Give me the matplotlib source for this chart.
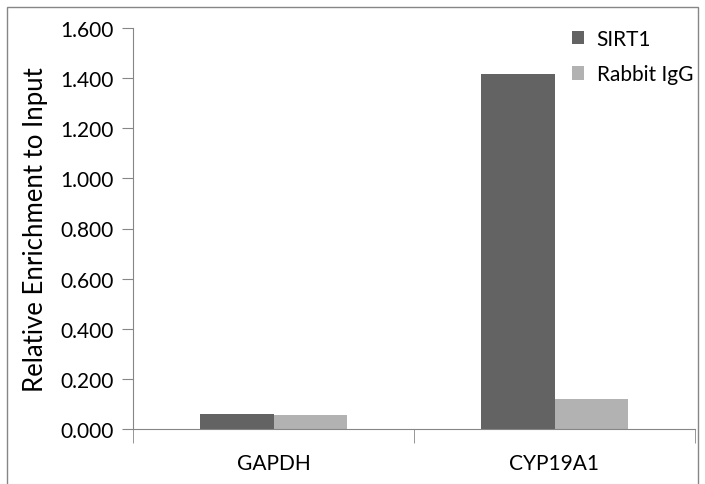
# Enriquecimiento relativo (ChIP) por gen, SIRT1 vs Rabbit IgG

import matplotlib.pyplot as plt
import numpy as np
from matplotlib.patches import Rectangle

# Datos
genes = ["GAPDH", "CYP19A1"]
sirt1 = [0.060, 1.415]
igg = [0.055, 0.121]
yticks = [0.0, 0.2, 0.4, 0.6, 0.8, 1.0, 1.2, 1.4, 1.6]

plt.rcParams['font.family'] = ['Lato', 'DejaVu Sans']

fig = plt.figure(figsize=(7.05, 4.85), dpi=100)
ax = fig.add_axes([133 / 705, 1 - 430 / 485, 562 / 705, 401 / 485])

# Borde exterior del gráfico
fig.patches.append(Rectangle((7 / 705, -0.1), 691 / 705, 1 - 8 / 485 + 0.1,
                             transform=fig.transFigure, fill=False,
                             edgecolor="#868686", linewidth=1.0))

x = np.arange(len(genes))
w = 0.263
ax.bar(x - w / 2, sirt1, w, color="#636363", label="SIRT1")
ax.bar(x + w / 2, igg, w, color="#b2b2b2", label="Rabbit IgG")

ax.set_xlim(-0.5, 1.5)
ax.set_ylim(0, 1.6)
ax.set_yticks(yticks)
ax.set_yticklabels([f"{v:.3f}" for v in yticks])
ax.set_xticks(x)
ax.set_xticklabels(genes)
ax.tick_params(axis="x", length=0, pad=17, labelsize=15)
ax.set_xticks([-0.5, 0.5, 1.5], minor=True)
ax.tick_params(axis="x", which="minor", length=10, color="#868686")
ax.tick_params(axis="y", length=8, color="#868686", pad=6, labelsize=15)

for s in ["top", "right"]:
    ax.spines[s].set_visible(False)
for s in ["left", "bottom"]:
    ax.spines[s].set_color("#868686")

ax.set_ylabel("Relative Enrichment to Input", fontsize=18.5, labelpad=9)

ax.legend(loc="upper left", bbox_to_anchor=(420 / 562, 1.045), frameon=False,
          fontsize=15, handlelength=0.6, handleheight=0.6, labelspacing=0.75,
          handletextpad=0.6)

plt.savefig("out.png")
